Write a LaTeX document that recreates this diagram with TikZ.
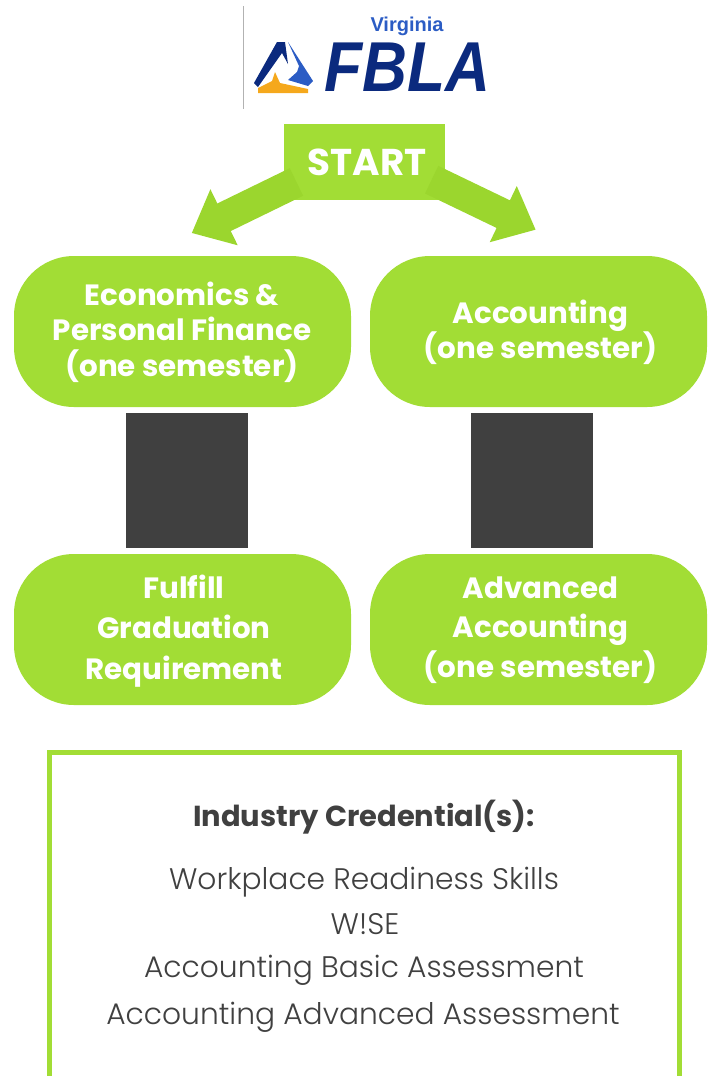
\documentclass[tikz,border=0pt]{standalone}
\usepackage{fontspec}
\setmainfont{Poppins}
\newfontfamily\credfont{Poppins Light}
\newfontfamily\logofont{Liberation Sans}
\usetikzlibrary{positioning, arrows.meta, calc}
\definecolor{fblaGreen}{HTML}{A2DD35}
\definecolor{arrowGreen}{HTML}{9BD62E}
\definecolor{darkBox}{HTML}{404040}
\definecolor{logoNavy}{HTML}{0B2A7E}
\definecolor{logoBlue}{HTML}{2B5CC4}
\definecolor{logoOrange}{HTML}{F5A81C}

\begin{document}
\begin{tikzpicture}[x=0.75pt, y=-0.75pt, >=Latex]
% -------------------- Styles --------------------
\tikzset{
  pill/.style={
    fill=fblaGreen, rounded corners=45pt, minimum width=252.75pt, minimum height=113.25pt
  },
  pillText/.style={
    text=white, align=center, inner sep=0pt,
    font=\fontsize{22}{26.5}\selectfont\bfseries
  },
  gap/.style={
    fill=darkBox, minimum width=91.5pt, minimum height=101.25pt, inner sep=0pt
  },
  bigArrow/.style={
    draw=arrowGreen, line width=23pt,
    -{Triangle[length=27pt, width=45pt]}
  },
  cred/.style={
    text=darkBox, font=\credfont\fontsize{22.3}{26}\selectfont, inner sep=0pt
  }
}
\useasboundingbox (0,0) rectangle (714,1076);

% -------------------- Logo --------------------
\draw[black!30, line width=0.75pt] (243.5,6) -- (243.5,109);
\fill[logoNavy] (254,83) -- (277,42) -- (285,42) -- (288,64) -- (282,53) -- (258,87) -- cycle;
\fill[logoBlue] (288,42) -- (313,81) -- (308,86) -- (288,80) -- (297,72) -- (299,66) -- cycle;
\fill[logoOrange] (275,72) -- (280,83) -- (308,89) -- (308,93) -- (258,93) -- (258,88) -- (272,81) -- cycle;
\node[text=logoBlue, font=\logofont\fontsize{15}{15}\selectfont\bfseries, inner sep=0pt] (virginia) at (407,26) {Virginia};
\node[text=logoNavy, font=\logofont\fontsize{53}{53}\selectfont\bfseries\itshape, inner sep=0pt, xscale=.88] (fbla) at (407.5,67) {FBLA};

% -------------------- Pills and boxes --------------------
\node[fill=fblaGreen, minimum width=120.75pt, minimum height=57pt, inner sep=0pt] (start) at (364.5,162) {};

\node[pill] (econ) at (182.5,331.5) {};
\node[pill] (acct) at (538.5,331.5) {};
\node[gap] (gapL) at (187,480.5) {};
\node[gap] (gapR) at (532,480.5) {};
\node[pill] (grad) at (182.5,629.5) {};
\node[pill] (adv) at (538.5,629.5) {};

\coordinate (startL) at ($(start.south west)+(12.7,-18.3)$);
\coordinate (startR) at ($(start.south east)+(-13.6,-20.6)$);
\coordinate (econTip) at ($(econ.north)+(9.2,-22.7)$);
\coordinate (acctTip) at ($(acct.north)+(-2.8,-26)$);
\draw[bigArrow] (startL) -- (econTip);
\draw[bigArrow] (startR) -- (acctTip);

% labels sit apart from the pills so they can be nudged
\node[text=white, inner sep=0pt, font=\fontsize{28}{28}\selectfont\bfseries] (startText) at (367,162) {START};
\node[pillText] (econText) at (182,332) {Economics \&\\Personal Finance\\(one semester)};
\node[pillText] (acctText) at (540.5,332.5) {Accounting\\(one semester)};
\node[pillText, font=\fontsize{22}{30.5}\selectfont\bfseries] (gradText) at (184,631) {Fulfill\\Graduation\\Requirement};
\node[pillText, font=\fontsize{22}{29.8}\selectfont\bfseries] (advText) at (540.5,630) {Advanced\\Accounting\\(one semester)};

% -------------------- Credentials --------------------
\draw[fblaGreen, line width=4pt] (49.5,1076) -- (49.5,752.5) -- (679.5,752.5) -- (679.5,1076);
\node[cred, font=\fontsize{21.7}{26}\selectfont\bfseries] (credTitle) at (364,817) {Industry Credential(s):};
\node[cred] (wrs) at (364,882) {Workplace Readiness Skills};
\node[cred] (wise) at (365,924) {W!SE};
\node[cred] (basic) at (364,970) {Accounting Basic Assessment};
\node[cred] (advanced) at (363,1017) {Accounting Advanced Assessment};
\end{tikzpicture}
\end{document}
